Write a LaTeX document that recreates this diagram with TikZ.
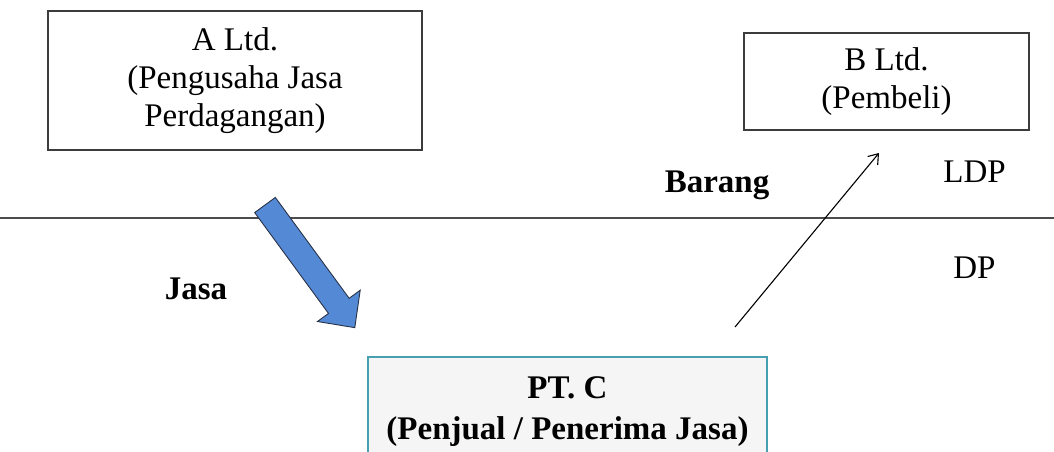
\documentclass[tikz,border=0pt]{standalone}
\usepackage{fontspec}
\setmainfont{Liberation Serif}
\usetikzlibrary{arrows.meta}
\definecolor{boxline}{RGB}{60,60,60}
\definecolor{tealline}{RGB}{70,160,176}
\definecolor{arrowblue}{RGB}{84,137,214}
\definecolor{arrowedge}{RGB}{40,50,70}
\begin{document}
\begin{tikzpicture}[x=1pt,y=-1pt,
  partybox/.style={draw=boxline,line width=1.3pt,align=center,inner sep=0pt,
    font=\fontsize{33}{38}\selectfont},
  mainbox/.style={draw=tealline,line width=2.6pt,fill=black!4,align=center,inner sep=0pt,
    font=\fontsize{33}{41}\selectfont\bfseries},
  plainlabel/.style={anchor=base,inner sep=0pt,font=\fontsize{33}{38}\selectfont},
  boldlabel/.style={anchor=base,inner sep=0pt,font=\fontsize{33}{38}\selectfont\bfseries},
  thinarrow/.style={line width=1.1pt,-{Straight Barb[length=9pt,width=13pt]}}]
\useasboundingbox (0,0) rectangle (1054,452);
% divider line
\coordinate (l1) at (0,218);
\coordinate (l2) at (1054,218);
\draw[line width=1.5pt,draw=black!70] (l1) -- (l2);
% boxes
\node[partybox,minimum width=374pt,minimum height=139pt] (a) at (235,80.5)
  {A Ltd.\\(Pengusaha Jasa\\Perdagangan)};
\node[partybox,minimum width=285pt,minimum height=97pt] (b) at (886.5,81.5)
  {B Ltd.\\(Pembeli)};
\node[mainbox,minimum width=399pt,minimum height=110pt] (c) at (567.5,412)
  {PT. C\\(Penjual / Penerima Jasa)};
% labels
\node[boldlabel] (barang) at (717,192) {Barang};
\node[plainlabel] (ldp) at (974.5,182) {LDP};
\node[plainlabel] (dp) at (974.5,278) {DP};
\node[boldlabel] (jasa) at (196,299) {Jasa};
% thin arrow (goods)
\coordinate (g1) at (735,327);
\coordinate (g2) at (879,153);
\draw[thinarrow] (g1) -- (g2);
% blue block arrow (services)
\coordinate (s1) at (265,205);
\begin{scope}[shift={(s1)},rotate=-53.8]
  \fill[arrowblue] (0,-12.8) -- (125,-12.8) -- (125,-26.5) -- (152,0)
    -- (125,26.5) -- (125,12.8) -- (0,12.8) -- cycle;
  \draw[arrowedge,line width=0.9pt,line join=miter] (0,-12.8) -- (125,-12.8) -- (125,-26.5) -- (152,0)
    -- (125,26.5) -- (125,12.8) -- (0,12.8) -- cycle;
\end{scope}
\end{tikzpicture}
\end{document}
